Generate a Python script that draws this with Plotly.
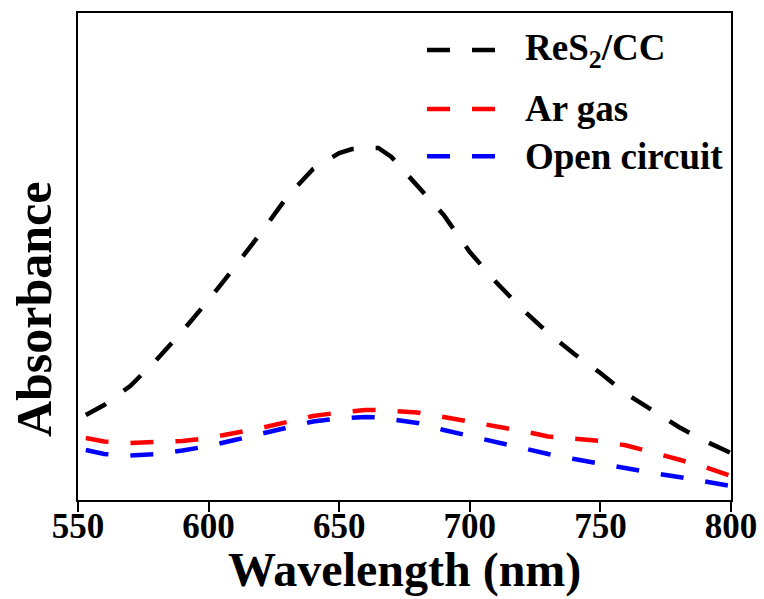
import plotly.graph_objects as go

wavelength = [553, 560, 570, 580, 590, 600, 610, 620, 630, 640, 650, 655, 660, 665,
              670, 680, 690, 700, 710, 720, 730, 740, 750, 760, 770, 780, 790, 800]

res2_cc = [0.85, 0.95, 1.14, 1.40, 1.69, 2.00, 2.33, 2.67, 3.03, 3.31, 3.47, 3.51, 3.52, 3.52,
           3.43, 3.14, 2.85, 2.48, 2.18, 1.91, 1.67, 1.46, 1.27, 1.06, 0.89, 0.73, 0.59, 0.47]

ar_gas = [0.62, 0.585, 0.57, 0.575, 0.59, 0.62, 0.665, 0.72, 0.78, 0.84, 0.875, 0.89, 0.90, 0.90,
          0.895, 0.875, 0.83, 0.785, 0.745, 0.69, 0.635, 0.61, 0.59, 0.545, 0.48, 0.405, 0.33, 0.24]

open_circuit = [0.50, 0.46, 0.445, 0.46, 0.495, 0.54, 0.60, 0.665, 0.73, 0.785, 0.815, 0.825, 0.83, 0.825,
                0.81, 0.77, 0.70, 0.64, 0.575, 0.515, 0.46, 0.41, 0.36, 0.31, 0.27, 0.23, 0.185, 0.14]

series_names = ["ReS<sub>2</sub>/CC", "Ar gas", "Open circuit"]
series_colors = ["#000000", "#ff0000", "#0000ff"]
series_values = [res2_cc, ar_gas, open_circuit]

x_ticks = [550, 600, 650, 700, 750, 800]

FONT = "Liberation Serif, Times New Roman, serif"
DASH = "23px,22px"

fig = go.Figure()
for name, color, vals in zip(series_names, series_colors, series_values):
    fig.add_trace(go.Scatter(
        x=wavelength, y=vals, mode="lines", name=name,
        line=dict(color=color, width=4.5, dash=DASH),
        showlegend=False, hoverinfo="skip",
    ))

# custom legend (long dashed samples like the original)
leg_rows = [0.924, 0.803, 0.706]
for name, color, yy in zip(series_names, series_colors, leg_rows):
    fig.add_shape(type="line", xref="paper", yref="paper",
                  x0=0.5345, x1=0.6386, y0=yy, y1=yy,
                  line=dict(color=color, width=4.5, dash=DASH))
    fig.add_annotation(xref="paper", yref="paper", x=0.6815, y=yy,
                       xanchor="left", yanchor="middle", showarrow=False,
                       text=name, font=dict(family=FONT, size=37, color="black", weight="bold"))

fig.add_annotation(xref="paper", yref="paper", x=0.5, y=-0.2033,
                   xanchor="center", yanchor="bottom", showarrow=False,
                   text="Wavelength (nm)",
                   font=dict(family=FONT, size=48, color="black", weight="bold"))
fig.add_annotation(xref="paper", yref="paper", x=-0.0674, y=0.392,
                   xanchor="center", yanchor="middle", showarrow=False, textangle=-90,
                   text="Absorbance",
                   font=dict(family=FONT, size=50, color="black", weight="bold"))

fig.update_layout(
    width=764, height=599,
    margin=dict(l=78, r=33, t=13, b=99),
    paper_bgcolor="white", plot_bgcolor="white",
    font=dict(family=FONT, color="black"),
)
fig.update_xaxes(range=[550, 800], tickvals=x_ticks, ticktext=[str(t) for t in x_ticks],
                 ticks="outside", ticklen=10, tickwidth=1.5, tickcolor="black",
                 ticklabelstandoff=-16,
                 showline=True, linewidth=1.5, linecolor="black", mirror=True,
                 showgrid=False, zeroline=False, automargin=False,
                 tickfont=dict(family=FONT, size=35, color="black", weight="bold"))
fig.update_yaxes(range=[0, 4.87], showticklabels=False, ticks="",
                 showline=True, linewidth=1.5, linecolor="black", mirror=True,
                 showgrid=False, zeroline=False, automargin=False)

fig.write_html("out.html", config={"displayModeBar": False},
               post_script="document.body.style.margin='0';document.body.style.overflow='hidden';")
